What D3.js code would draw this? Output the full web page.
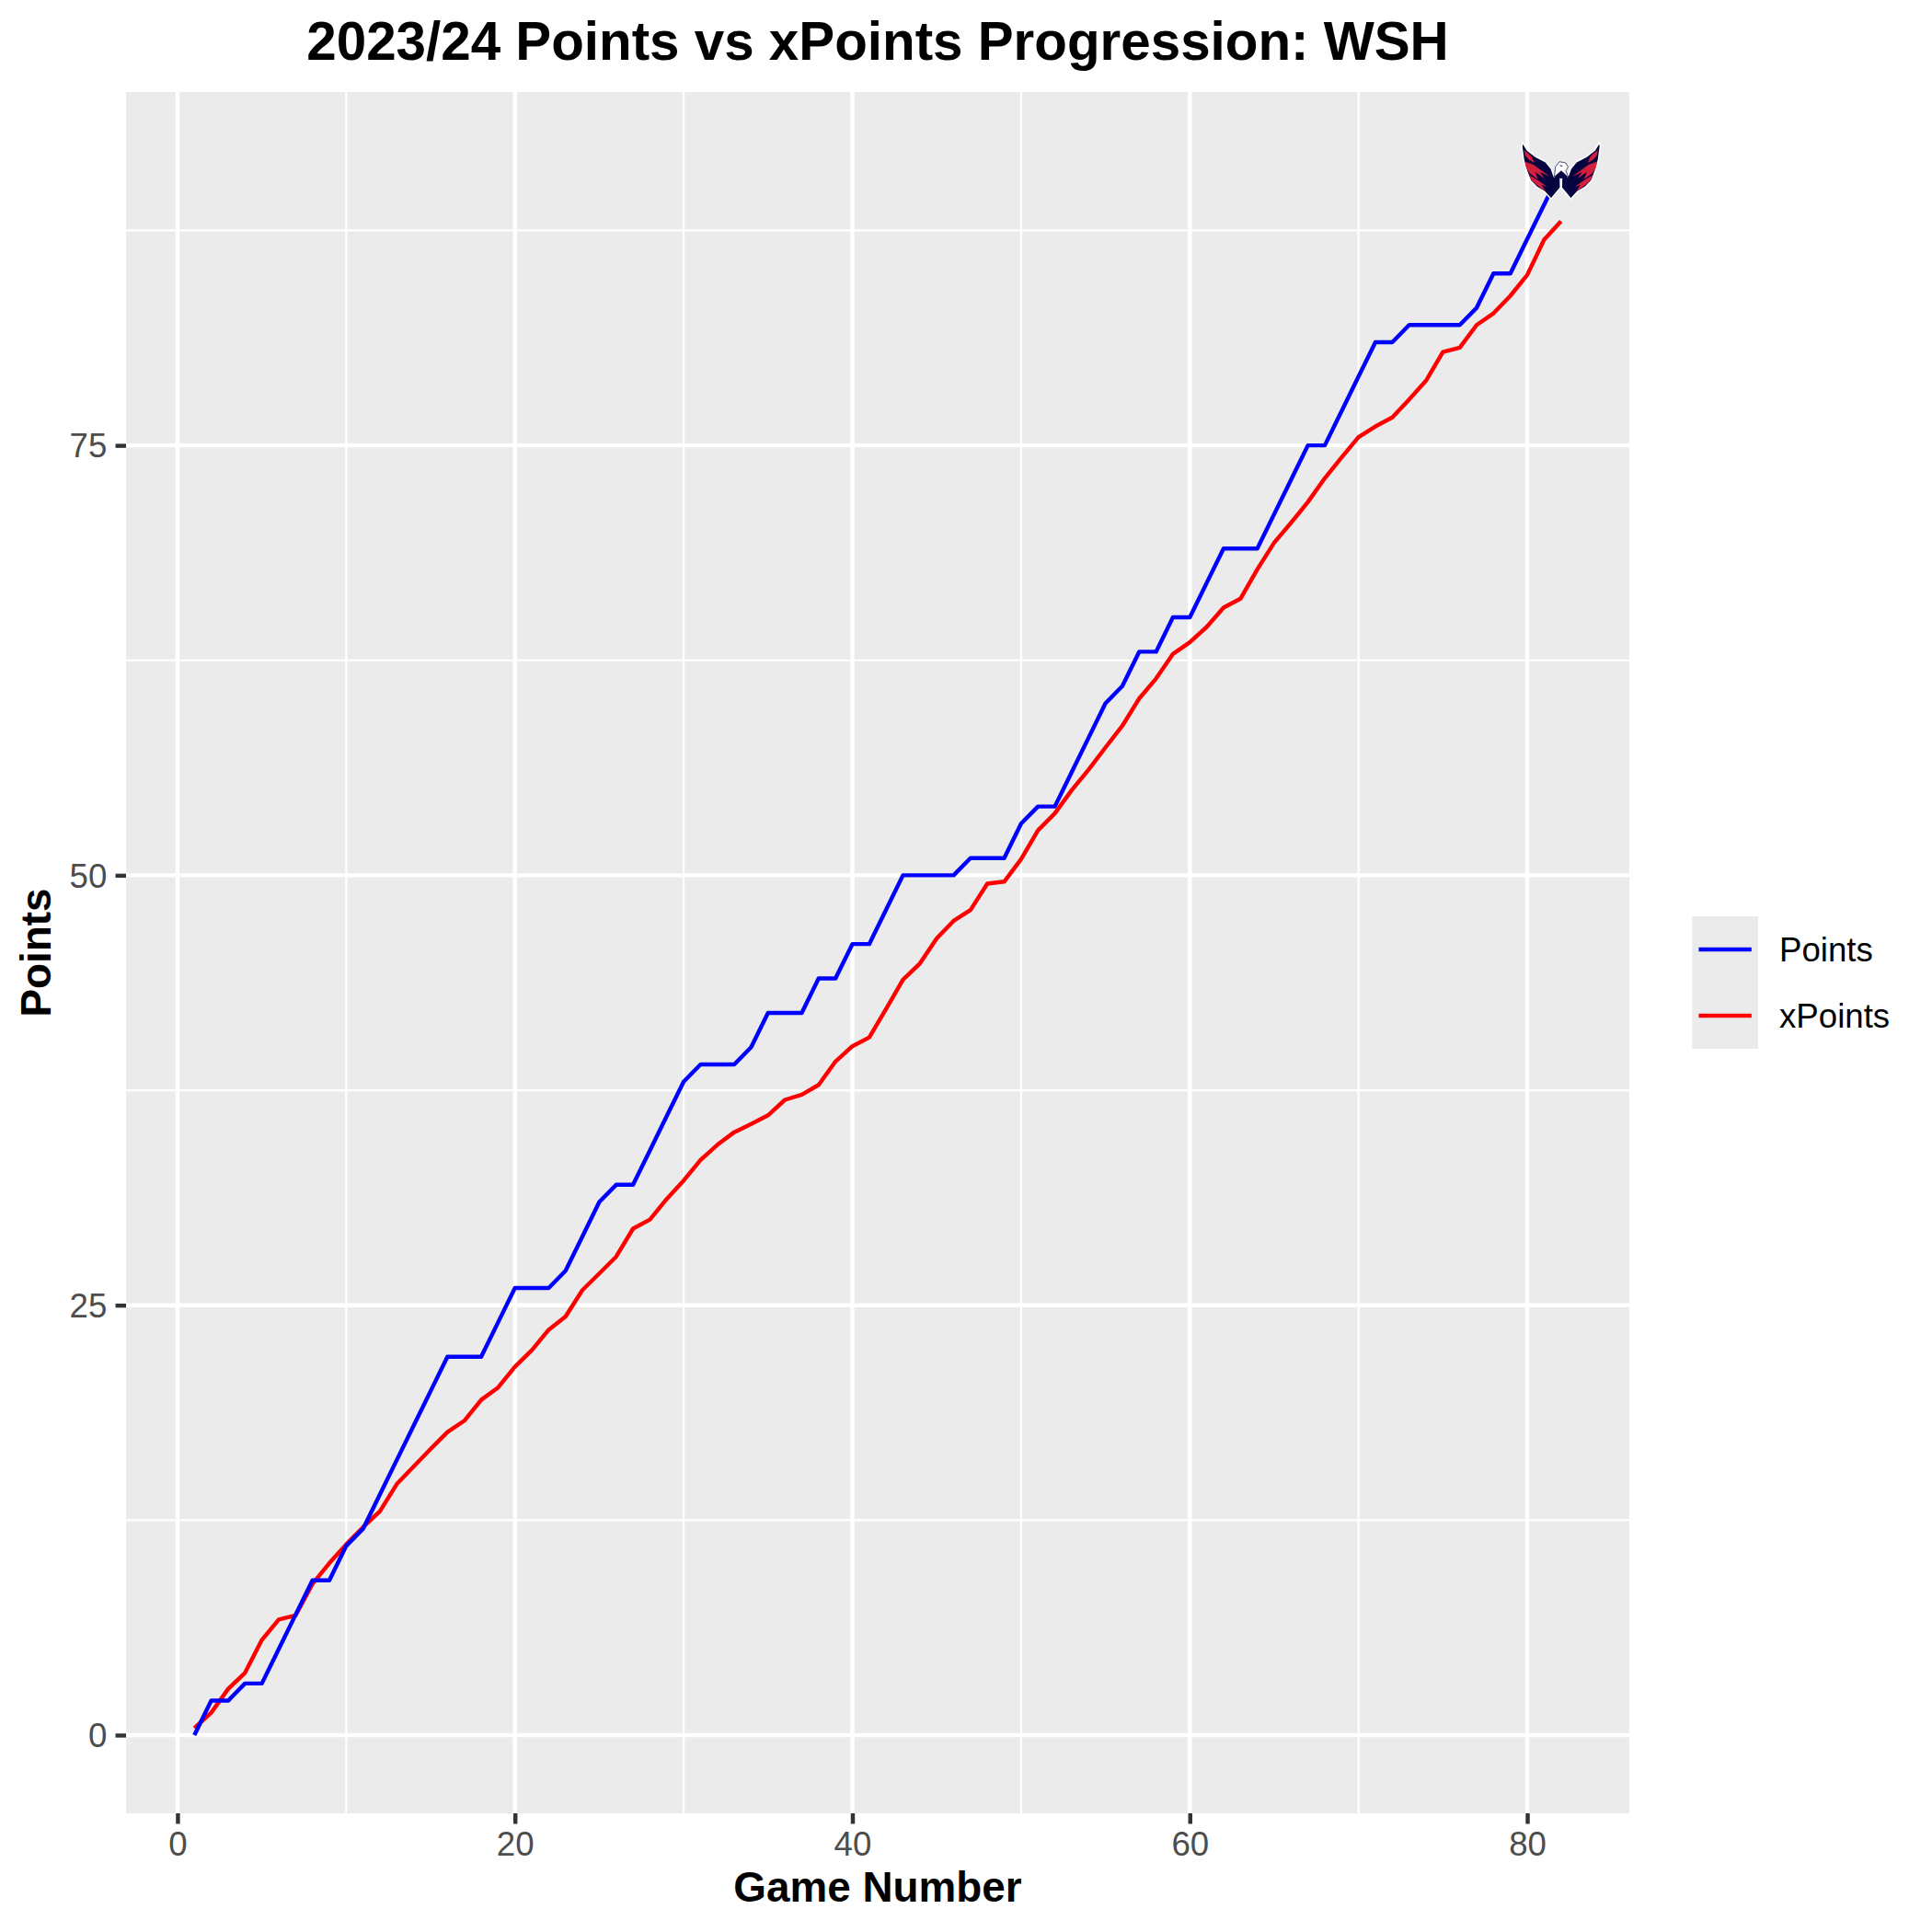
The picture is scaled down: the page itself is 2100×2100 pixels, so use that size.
<!DOCTYPE html>
<html>
<head>
<meta charset="utf-8">
<script src="https://cdn.jsdelivr.net/npm/d3@7"></script>
<style>
  body { margin: 0; background: #ffffff; }
  text { font-family: "Liberation Sans", Arial, sans-serif; }
</style>
</head>
<body>
<script>
// game by game values
var games = d3.range(1, 83);
var points = [0, 2, 2, 3, 3, 5, 7, 9, 9, 11, 12, 14, 16, 18, 20, 22, 22, 22, 24, 26,
  26, 26, 27, 29, 31, 32, 32, 34, 36, 38, 39, 39, 39, 40, 42, 42, 42, 44, 44, 46,
  46, 48, 50, 50, 50, 50, 51, 51, 51, 53, 54, 54, 56, 58, 60, 61, 63, 63, 65, 65,
  67, 69, 69, 69, 71, 73, 75, 75, 77, 79, 81, 81, 82, 82, 82, 82, 83, 85, 85, 87,
  89, 91];
var xPoints = [0.41, 1.30, 2.68, 3.62, 5.53, 6.72, 6.96, 8.79, 10.0, 11.09, 12.09, 13.02, 14.6, 15.62, 16.64, 17.62, 18.28, 19.49, 20.21, 21.42,
  22.38, 23.57, 24.34, 25.88, 26.84, 27.82, 29.45, 29.98, 31.18, 32.25, 33.44, 34.33, 35.06, 35.54, 36.04, 36.94, 37.24, 37.81, 39.17, 40.06,
  40.57, 42.23, 43.93, 44.87, 46.33, 47.35, 47.98, 49.51, 49.63, 50.94, 52.61, 53.6, 54.95, 56.14, 57.43, 58.69, 60.28, 61.44, 62.87, 63.55,
  64.44, 65.56, 66.08, 67.79, 69.34, 70.5, 71.71, 73.09, 74.3, 75.48, 76.1, 76.62, 77.67, 78.76, 80.43, 80.68, 82.0, 82.68, 83.7, 84.91,
  86.96, 88.03];

var xMajor = [0, 20, 40, 60, 80];
var xMinor = [10, 30, 50, 70];
var yMajor = [0, 25, 50, 75];
var yMinor = [12.5, 37.5, 62.5, 87.5];

var seriesNames = ["Points", "xPoints"];
var seriesColours = ["#0000ff", "#ff0000"];

var lineWidth = 4.44;
var panel = { left: 137, right: 1771, top: 100, bottom: 1971 };

var holder = d3.select("body")
  .append("svg")
  .attr("width", 2100)
  .attr("height", 2100);

// 5% padding on both ends, like the original plot
function padded(values) {
  var e = d3.extent(values), pad = (e[1] - e[0]) * 0.05;
  return [e[0] - pad, e[1] + pad];
}

var x = d3.scaleLinear().domain(padded(games)).range([panel.left, panel.right]);
var y = d3.scaleLinear().domain(padded(points)).range([panel.bottom, panel.top]);

// panel background
holder.append("rect")
  .attr("x", panel.left)
  .attr("y", panel.top)
  .attr("width", panel.right - panel.left)
  .attr("height", panel.bottom - panel.top)
  .style("fill", "#ebebeb");

// grid lines, minor first
function verticalGrid(values, width) {
  holder.append("g").selectAll("line")
    .data(values)
    .enter().append("line")
    .attr("x1", function(d) { return x(d); })
    .attr("x2", function(d) { return x(d); })
    .attr("y1", panel.top)
    .attr("y2", panel.bottom)
    .attr("stroke", "#ffffff")
    .attr("stroke-width", width);
}
function horizontalGrid(values, width) {
  holder.append("g").selectAll("line")
    .data(values)
    .enter().append("line")
    .attr("y1", function(d) { return y(d); })
    .attr("y2", function(d) { return y(d); })
    .attr("x1", panel.left)
    .attr("x2", panel.right)
    .attr("stroke", "#ffffff")
    .attr("stroke-width", width);
}
verticalGrid(xMinor, lineWidth / 2);
horizontalGrid(yMinor, lineWidth / 2);
verticalGrid(xMajor, lineWidth);
horizontalGrid(yMajor, lineWidth);

// the two progression lines, blue ends up on top
var lineGen = d3.line()
  .x(function(d) { return x(d.game); })
  .y(function(d) { return y(d.value); });

[xPoints, points].forEach(function(series, s) {
  holder.append("path")
    .datum(series.map(function(v, i) { return { game: games[i], value: v }; }))
    .attr("d", lineGen)
    .attr("fill", "none")
    .attr("stroke", seriesColours[1 - s])
    .attr("stroke-width", lineWidth)
    .attr("stroke-linejoin", "round");
});

// team logo sits on the last Points value, drawn as plain shapes
var wingShape = "M-41.7,-30.3 L-36.7,-22 L-28.3,-15.3 L-16.7,-9.3 L-10.7,-2 L-7.3,7.3 L-0.5,-1 L-0.7,8.7 L-0.5,19 L-10.7,31.3 L-18.3,23 L-26.7,18 L-33.3,11.3 L-37.3,0.7 L-40.7,-11.3 L-42.7,-26 Z";
var wingRed = [
  "M-40,-22 L-32,-15 L-29,-8 L-35,-11.5 L-39,-16 Z",
  "M-39.5,-9.5 L-30,-6 L-12,7 L-23,2 L-18,9 L-28,2 L-25,10 L-34.5,3 L-38,-3 Z",
  "M-35,5 L-25,11 L-15,18 L-21,16 L-17,23 L-27,15.5 L-32,11 Z"
];
var logo = holder.append("g")
  .attr("transform", "translate(" + x(games[81]) + "," + y(points[81]) + ")");

[1, -1].forEach(function(side) {
  var wing = logo.append("g").attr("transform", "scale(" + side + ",1)");
  wing.append("path")
    .attr("d", wingShape)
    .attr("fill", "#06053f")
    .attr("stroke", "#ffffff")
    .attr("stroke-width", 1.5)
    .attr("stroke-linejoin", "round");
  wing.selectAll("path.red")
    .data(wingRed)
    .enter().append("path")
    .attr("class", "red")
    .attr("d", function(d) { return d; })
    .attr("fill", "#d31f3c");
});
// navy fill under the head, then the eagle head and its eye
logo.append("path")
  .attr("d", "M-7.3,7.3 L0,-1 L7.3,7.3 L0,9 Z")
  .attr("fill", "#06053f");
logo.append("path")
  .attr("d", "M-7.3,7.3 L-6,-3.7 L-1.7,-9.3 L5,-8 L7.7,-3.7 L5.3,0.7 L8.3,8 L0.3,0.7 Z")
  .attr("fill", "#ffffff")
  .attr("stroke", "#06053f")
  .attr("stroke-width", 0.7);
logo.append("path")
  .attr("d", "M-2,-5.5 L2,-5 L0.5,-4 Z")
  .attr("fill", "#06053f");

// axes
var xAxis = d3.axisBottom(x)
  .tickValues(xMajor)
  .tickSize(11.46)
  .tickSizeOuter(0)
  .tickPadding(9);
var yAxis = d3.axisLeft(y)
  .tickValues(yMajor)
  .tickSize(11.46)
  .tickSizeOuter(0)
  .tickPadding(9.17);

var xG = holder.append("g")
  .attr("transform", "translate(0," + panel.bottom + ")")
  .call(xAxis);
var yG = holder.append("g")
  .attr("transform", "translate(" + panel.left + ",0)")
  .call(yAxis);

[xG, yG].forEach(function(g) {
  g.select(".domain").remove();
  g.selectAll(".tick line")
    .attr("stroke", "#333333")
    .attr("stroke-width", lineWidth);
  g.selectAll(".tick text")
    .attr("fill", "#4d4d4d")
    .style("font-family", '"Liberation Sans", Arial, sans-serif')
    .style("font-size", "36.67px");
});
yG.selectAll(".tick text").attr("dy", "0.35em");

// title and axis labels
holder.append("text")
  .attr("x", (panel.left + panel.right) / 2)
  .attr("y", 65)
  .attr("text-anchor", "middle")
  .style("font-size", "58.33px")
  .style("font-weight", "bold")
  .text("2023/24 Points vs xPoints Progression: WSH");

holder.append("text")
  .attr("x", (panel.left + panel.right) / 2)
  .attr("y", 2067)
  .attr("text-anchor", "middle")
  .style("font-size", "45.83px")
  .style("font-weight", "bold")
  .text("Game Number");

holder.append("text")
  .attr("transform", "translate(55," + (panel.top + panel.bottom) / 2 + ") rotate(-90)")
  .attr("text-anchor", "middle")
  .style("font-size", "45.83px")
  .style("font-weight", "bold")
  .text("Points");

// legend
var legendKeys = holder.append("g").selectAll("g")
  .data(seriesNames)
  .enter().append("g")
  .attr("transform", function(d, i) { return "translate(1839.3," + (996 + i * 72) + ")"; });

legendKeys.append("rect")
  .attr("width", 71.7)
  .attr("height", 72)
  .style("fill", "#ebebeb");

legendKeys.append("line")
  .attr("x1", 7.2)
  .attr("x2", 64.5)
  .attr("y1", 36)
  .attr("y2", 36)
  .attr("stroke", function(d, i) { return seriesColours[i]; })
  .attr("stroke-width", lineWidth);

legendKeys.append("text")
  .attr("x", 94.7)
  .attr("y", 49)
  .style("font-size", "36.67px")
  .text(function(d) { return d; });
</script>
</body>
</html>
